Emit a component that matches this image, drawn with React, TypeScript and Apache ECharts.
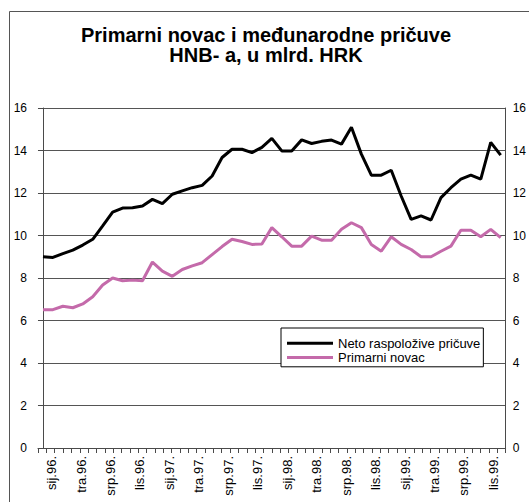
import React, { useEffect, useRef } from "react";
import * as echarts from "echarts";

// Monthly observations, Dec 1995 – Oct 1999
const months = [
  "pro.95.",
  "sij.96.", "velj.96.", "ožu.96.", "tra.96.", "svi.96.", "lip.96.", "srp.96.", "kol.96.", "ruj.96.", "lis.96.", "stu.96.", "pro.96.",
  "sij.97.", "velj.97.", "ožu.97.", "tra.97.", "svi.97.", "lip.97.", "srp.97.", "kol.97.", "ruj.97.", "lis.97.", "stu.97.", "pro.97.",
  "sij.98.", "velj.98.", "ožu.98.", "tra.98.", "svi.98.", "lip.98.", "srp.98.", "kol.98.", "ruj.98.", "lis.98.", "stu.98.", "pro.98.",
  "sij.99.", "velj.99.", "ožu.99.", "tra.99.", "svi.99.", "lip.99.", "srp.99.", "kol.99.", "ruj.99.", "lis.99.",
];

// Neto raspoložive pričuve (mlrd. HRK)
const netoReserves = [
  9.0, 8.97, 9.15, 9.31, 9.55, 9.82, 10.45, 11.1, 11.29, 11.31, 11.39, 11.7,
  11.5, 11.94, 12.1, 12.25, 12.36, 12.8, 13.67, 14.06, 14.06, 13.9, 14.15, 14.57,
  13.98, 13.98, 14.5, 14.33, 14.43, 14.49, 14.3, 15.09, 13.83, 12.84, 12.84, 13.07,
  11.86, 10.76, 10.92, 10.73, 11.78, 12.25, 12.65, 12.84, 12.65, 14.38, 13.78,
];

// Primarni novac (mlrd. HRK)
const primaryMoney = [
  6.51, 6.51, 6.67, 6.6, 6.78, 7.12, 7.67, 8.0, 7.87, 7.9, 7.87, 8.75,
  8.32, 8.08, 8.4, 8.57, 8.72, 9.1, 9.48, 9.82, 9.72, 9.58, 9.6, 10.37,
  9.94, 9.5, 9.5, 9.97, 9.78, 9.78, 10.29, 10.6, 10.37, 9.58, 9.26, 9.94,
  9.58, 9.34, 9.0, 9.0, 9.26, 9.5, 10.25, 10.25, 9.94, 10.29, 9.9,
];

const xTickLabels = [
  "sij.96.", "tra.96.", "srp.96.", "lis.96.",
  "sij.97.", "tra.97.", "srp.97.", "lis.97.",
  "sij.98.", "tra.98.", "srp.98.", "lis.98.",
  "sij.99.", "tra.99.", "srp.99.", "lis.99.",
];

const seriesNames = ["Neto raspoložive pričuve", "Primarni novac"];
const titleLines = ["Primarni novac i međunarodne pričuve", "HNB- a, u mlrd. HRK"];

// axis layout (in month-index units)
const X_MIN = -0.5;
const X_MAX = months.length - 0.5;
const LABEL_START = 0.87;
const LABEL_STEP = 2.96;
const TICK_COUNT = 56;

export default function App() {
  const ref = useRef<HTMLDivElement>(null);

  useEffect(() => {
    if (!ref.current) return;
    const chart = echarts.init(ref.current, undefined, { renderer: "svg" });

    const labelPos = xTickLabels.map((_, k) => LABEL_START + LABEL_STEP * k);
    const tickPos = Array.from({ length: TICK_COUNT + 1 }, (_, j) => X_MIN + (j * (X_MAX - X_MIN)) / TICK_COUNT);

    const axisColor = "#4a4a4a";
    const font = "'Liberation Sans', Arial, sans-serif";

    const yCommon = {
      type: "value" as const,
      min: 0,
      max: 16,
      interval: 2,
      axisLine: { show: true, lineStyle: { color: axisColor, width: 1 } },
      axisLabel: { color: "#000", fontSize: 12, fontFamily: font },
      splitLine: { show: false },
    };

    const titleStyle = {
      fontFamily: font,
      fontWeight: "bold" as const,
      fontSize: 20,
      lineHeight: 20,
      color: "#000",
    };

    chart.setOption({
      animation: false,
      backgroundColor: "#fff",
      title: titleLines.map((t, i) => ({
        text: t,
        left: 266,
        top: 24.5 + i * 20.8,
        padding: 0,
        textAlign: "center",
        textStyle: titleStyle,
      })),
      graphic: [
        {
          type: "rect",
          shape: { x: 9.5, y: 11.5, width: 700, height: 700 },
          style: { fill: "none", stroke: "#555", lineWidth: 1 },
          silent: true,
          z: -1,
        },
      ],
      legend: {
        left: 281,
        top: 328,
        orient: "vertical",
        backgroundColor: "#fff",
        borderColor: "#000",
        borderWidth: 1,
        padding: [8, 3, 2, 6],
        itemGap: 0,
        itemWidth: 46,
        itemHeight: 3,
        icon: "rect",
        textStyle: { fontFamily: font, fontSize: 13, lineHeight: 14.4, color: "#000" },
        data: seriesNames,
        z: 10,
      },
      grid: { left: 38, right: 22.3, top: 108, bottom: 54, containLabel: false },
      xAxis: {
        type: "value",
        min: X_MIN,
        max: X_MAX,
        axisLine: { show: true, onZero: false, lineStyle: { color: axisColor, width: 1 } },
        axisTick: { show: true, length: 5, customValues: tickPos, lineStyle: { color: axisColor } },
        axisLabel: {
          show: true,
          customValues: labelPos,
          rotate: 90,
          margin: 8,
          color: "#000",
          fontSize: 13,
          fontFamily: font,
          formatter: (v: number) => {
            const k = labelPos.findIndex((p) => Math.abs(p - v) < 0.01);
            return k >= 0 ? xTickLabels[k] : "";
          },
        },
        splitLine: { show: false },
      },
      yAxis: [
        {
          ...yCommon,
          position: "left",
          axisTick: { show: true, length: 5, lineStyle: { color: axisColor } },
          axisLabel: { ...yCommon.axisLabel, margin: 11 },
          splitLine: { show: true, lineStyle: { color: "#555", width: 1 } },
        },
        {
          ...yCommon,
          position: "right",
          axisTick: { show: false },
          axisLabel: { ...yCommon.axisLabel, margin: 7 },
        },
      ],
      series: [
        {
          name: seriesNames[0],
          type: "line",
          data: netoReserves.map((v, i) => ({ name: months[i], value: [i, v] })),
          symbol: "none",
          lineStyle: { color: "#000", width: 3 },
          itemStyle: { color: "#000" },
          z: 3,
        },
        {
          name: seriesNames[1],
          type: "line",
          data: primaryMoney.map((v, i) => ({ name: months[i], value: [i, v] })),
          symbol: "none",
          lineStyle: { color: "#c46aaa", width: 3 },
          itemStyle: { color: "#c46aaa" },
          z: 2,
        },
      ],
    });

    return () => chart.dispose();
  }, []);

  return (
    <div
      ref={ref}
      style={{ position: "fixed", left: 0, top: 0, width: 529, height: 502, background: "#fff" }}
    />
  );
}
